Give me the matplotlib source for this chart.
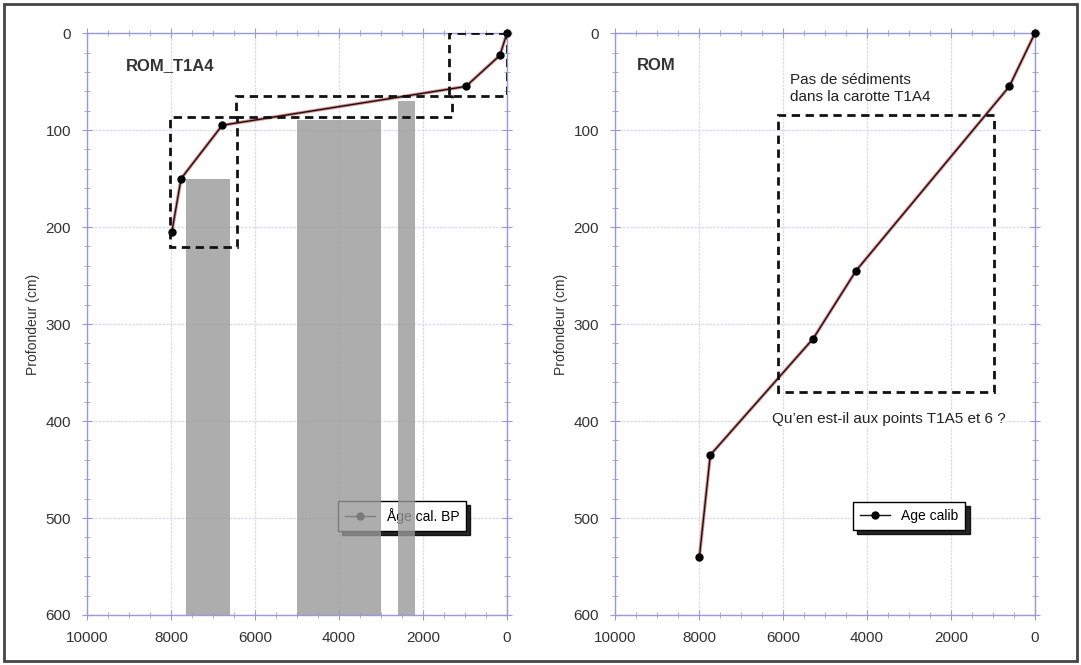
import numpy as np
import matplotlib.pyplot as plt
from matplotlib.patches import Rectangle
from matplotlib.ticker import MultipleLocator

plt.rcParams['font.family'] = ['Liberation Sans', 'DejaVu Sans']

# --- data: left core ROM_T1A4 ---
age_t1a4 = [0, 170, 980, 6780, 7760, 7980]
depth_t1a4 = [0, 23, 55, 95, 150, 205]

# grey bands (age start, age end, top depth)
band_start = [7640, 5000, 2600]
band_end = [6590, 3000, 2200]
band_top = [150, 90, 70]

# dashed boxes on left (age min, age max, depth min, depth max)
box_age_min = [0, 1310, 6440]
box_age_max = [1380, 6450, 8020]
box_dep_min = [0, 65, 86]
box_dep_max = [65, 86, 221]

# --- data: right core ROM ---
age_rom = [0, 610, 4260, 5280, 7730, 7990]
depth_rom = [0, 55, 245, 315, 435, 540]
rbox_age = [980, 6120]
rbox_dep = [84, 370]

AX_COL = '#9a9ad8'
GRID_COL = '#d8d8ee'
TXT_COL = '#333333'


def style_axes(ax):
    ax.set_xlim(10000, 0)
    ax.set_ylim(600, 0)
    ax.xaxis.set_major_locator(MultipleLocator(2000))
    ax.xaxis.set_minor_locator(MultipleLocator(500))
    ax.yaxis.set_major_locator(MultipleLocator(100))
    ax.yaxis.set_minor_locator(MultipleLocator(20))
    ax.grid(True, which='major', color=GRID_COL, lw=0.9, ls=(0, (2, 1)), zorder=0)
    for s in ax.spines.values():
        s.set_color(AX_COL)
        s.set_linewidth(1.0)
    ax.tick_params(which='both', direction='inout', color=AX_COL, top=True, right=True,
                   labelcolor=TXT_COL, labelsize=11)
    ax.tick_params(which='major', length=7, pad=8)
    ax.tick_params(which='minor', length=4)
    ax.set_ylabel('Profondeur (cm)', color=TXT_COL, fontsize=10, labelpad=4)
    ax.set_axisbelow(True)


fig = plt.figure(figsize=(10.81, 6.65), dpi=100)
ax1 = fig.add_axes([0.0805, 0.0752, 0.3885, 0.875])
ax2 = fig.add_axes([0.5689, 0.0752, 0.3885, 0.875])
style_axes(ax1)
style_axes(ax2)

shadow_style = {'color': 'black', 'alpha': 0.85, 'ox': 3, 'oy': -3}

# ---------------- left panel ----------------
for a0, a1, top in zip(band_start, band_end, band_top):
    ax1.bar(a0, 600 - top, width=a1 - a0, bottom=top, align='edge',
            color='#999999', alpha=0.8, lw=0, zorder=6)

ax1.plot(age_t1a4, depth_t1a4, color='#d89090', lw=2.4, zorder=7, clip_on=False)
ax1.plot(age_t1a4, depth_t1a4, color='#201010', lw=1.0, marker='o', ms=5,
         mfc='black', mec='black', zorder=8, label='Åge cal. BP', clip_on=False)

for amin, amax, dmin, dmax in zip(box_age_min, box_age_max, box_dep_min, box_dep_max):
    ax1.add_patch(Rectangle((amin, dmin), amax - amin, dmax - dmin, fill=False,
                            ls=(0, (3, 2)), lw=2, ec='#111111', zorder=9))

ax1.text(9070, 33, 'ROM_T1A4', fontsize=12, fontweight='bold', color=TXT_COL,
         va='center', ha='left')
leg1 = ax1.legend(loc='center', bbox_to_anchor=(0.75, 0.17), fancybox=False,
                  shadow=shadow_style, edgecolor='black', framealpha=1, fontsize=10,
                  handlelength=2.2, borderpad=0.5)
leg1.get_frame().set_linewidth(1.0)
leg1.set_zorder(5)

# ---------------- right panel ----------------
ax2.plot(age_rom, depth_rom, color='#d89090', lw=2.4, zorder=7, clip_on=False)
ax2.plot(age_rom, depth_rom, color='#201010', lw=1.0, marker='o', ms=5,
         mfc='black', mec='black', zorder=8, label='Age calib', clip_on=False)
ax2.add_patch(Rectangle((rbox_age[0], rbox_dep[0]), rbox_age[1] - rbox_age[0],
                        rbox_dep[1] - rbox_dep[0], fill=False, ls=(0, (3, 2)),
                        lw=2, ec='#111111', zorder=9))
ax2.text(9470, 33, 'ROM', fontsize=12, fontweight='bold', color=TXT_COL,
         va='center', ha='left')
ax2.text(5830, 57, 'Pas de sédiments\ndans la carotte T1A4', fontsize=11,
         color='#222222', va='center', ha='left', linespacing=1.3)
ax2.text(6260, 398, 'Qu\u2019en est-il aux points T1A5 et 6 ?', fontsize=11,
         color='#222222', va='center', ha='left',
         bbox=dict(fc='white', ec='none', pad=1))
leg2 = ax2.legend(loc='center', bbox_to_anchor=(0.7, 0.17), fancybox=False,
                  shadow=shadow_style, edgecolor='black', framealpha=1, fontsize=10,
                  handlelength=2.2, borderpad=0.5)
leg2.get_frame().set_linewidth(1.0)

# outer frame
fig.patches.append(Rectangle((0.004, 0.006), 0.992, 0.988, transform=fig.transFigure,
                             fill=False, ec='#444444', lw=2))

fig.savefig('out.png', dpi=100)
